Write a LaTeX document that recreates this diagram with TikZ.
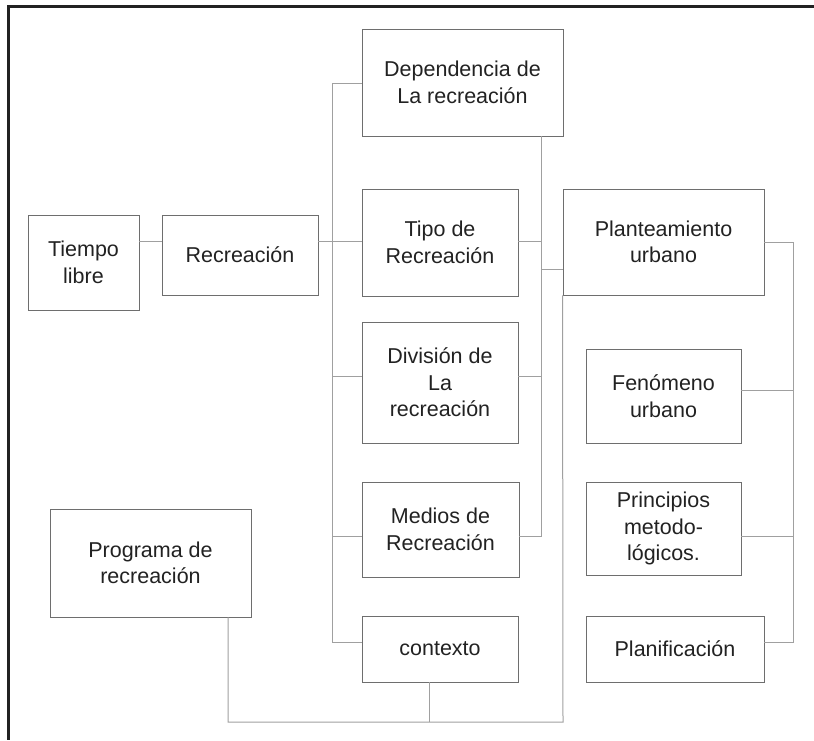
\documentclass[tikz,border=0pt]{standalone}
\usepackage{fontspec}
\setmainfont{Liberation Sans}
\definecolor{boxc}{HTML}{6E6E6E}
\definecolor{linec}{HTML}{A0A0A0}
\definecolor{txtc}{HTML}{222222}
\definecolor{framec}{HTML}{222222}
\tikzset{
  bx/.style={draw=boxc, line width=0.9pt, inner sep=0pt, align=center, text=txtc,
    font=\fontsize{21.5}{26.5}\selectfont},
  cn/.style={draw=linec, line width=1pt},
  frm/.style={draw=framec, line width=3pt}
}
\newcommand{\mkbox}[6]{%
  \node[bx, minimum width=#4pt-#2pt, minimum height=#5pt-#3pt] (#1) at ({(#2+#4)/2},{(#3+#5)/2}) {#6};}
\begin{document}
\begin{tikzpicture}[x=1pt,y=-1pt]
\useasboundingbox (0,0) rectangle (814,740);
\fill[white] (0,0) rectangle (814,740);
% frame
\coordinate (ftl) at (8.7,6.5);
\coordinate (ftr) at (814,6.5);
\coordinate (fbl) at (8.7,740);
\draw[frm] (ftr) -- (ftl) -- (fbl);
% boxes
\mkbox{tiempo}{28}{215}{139}{310}{Tiempo\\libre}
\mkbox{recre}{162}{215}{318}{295}{Recreación}
\mkbox{dep}{362}{29}{563}{136}{Dependencia de\\La recreación}
\mkbox{tipo}{362}{189}{518}{296}{Tipo de\\Recreación}
\mkbox{plan}{563}{189}{764}{295}{Planteamiento\\urbano}
\mkbox{div}{362}{322}{518}{443}{División de\\La\\recreación}
\mkbox{fen}{586}{349}{741}{443}{Fenómeno\\urbano}
\mkbox{med}{362}{482}{519}{577}{Medios de\\Recreación}
\mkbox{prin}{586}{482}{741}{575}{Principios\\metodo-\\lógicos.}
\mkbox{prog}{50}{509}{251}{617}{Programa de\\recreación}
\mkbox{ctx}{362}{616}{518}{682}{contexto}
\mkbox{planif}{586}{616}{764}{682}{Planificación}
% junction coordinates
\coordinate (r241) at (0,241);
\coordinate (lt) at (332,83);
\coordinate (lb) at (332,642);
\coordinate (l376) at (332,376);
\coordinate (l536) at (332,536);
\coordinate (mtop) at (541,136);
\coordinate (mbot) at (541,536);
\coordinate (m241) at (541,241);
\coordinate (m269) at (541,269);
\coordinate (m376) at (541,376);
\coordinate (b563) at (563,722);
\coordinate (b228) at (228,722);
\coordinate (b429) at (429,722);
\coordinate (rt) at (793,242);
\coordinate (rb) at (793,642);
\coordinate (r390) at (793,390);
\coordinate (r536) at (793,536);
% connectors
\draw[cn] (tiempo.east |- r241) -- (recre.west |- r241);
\draw[cn] (recre.east |- r241) -- (tipo.west |- r241);
\draw[cn] (tipo.east |- r241) -- (m241);
\draw[cn] (dep.west |- lt) -- (lt) -- (lb) -- (ctx.west |- lb);
\draw[cn] (l376) -- (div.west |- l376);
\draw[cn] (l536) -- (med.west |- l536);
\draw[cn] (mtop) -- (mbot) -- (med.east |- mbot);
\draw[cn] (m376) -- (div.east |- m376);
\draw[cn] (m269) -- (plan.west |- m269);
\draw[cn] (plan.south west) -- (b563) -- (b228) -- (prog.south -| b228);
\draw[cn] (ctx.south -| b429) -- (b429);
\draw[cn] (plan.east |- rt) -- (rt) -- (rb) -- (planif.east |- rb);
\draw[cn] (fen.east |- r390) -- (r390);
\draw[cn] (prin.east |- r536) -- (r536);
\end{tikzpicture}
\end{document}
